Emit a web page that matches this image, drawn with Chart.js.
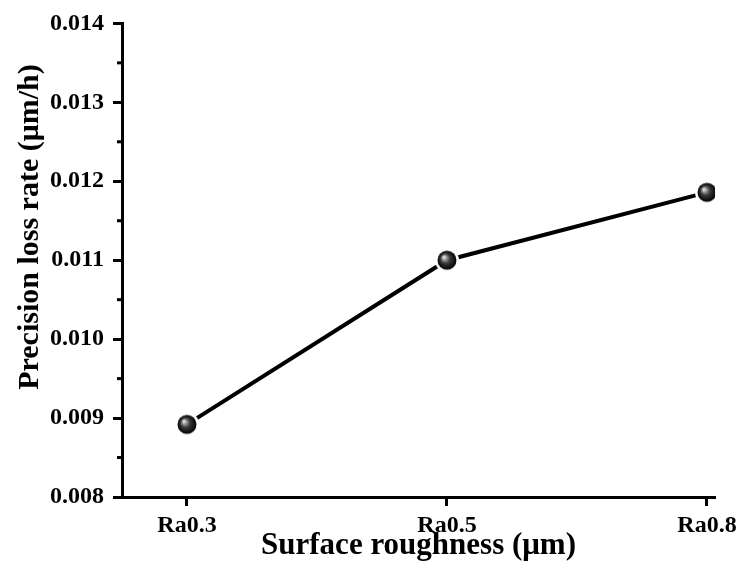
<!DOCTYPE html>
<html>
<head>
<meta charset="utf-8">
<script src="https://cdn.jsdelivr.net/npm/chart.js@4/dist/chart.umd.min.js"></script>
<style>
  html, body { margin: 0; padding: 0; background: #fff; }
  #wrap { width: 742px; height: 569px; }
</style>
</head>
<body>
<div id="wrap"><canvas id="lossRate"></canvas></div>
<script>
const categories = ['Ra0.3', 'Ra0.5', 'Ra0.8'];
const lossRate = [0.00892, 0.0110, 0.01186];
const yTicks = [0.008, 0.009, 0.010, 0.011, 0.012, 0.013, 0.014];
const yTitle = 'Precision loss rate (μm/h)';

const serif = "'Liberation Serif', 'Times New Roman', serif";

// shaded ball used as the point marker
function makeBall(r) {
  const ring = 2.5;
  const size = Math.ceil((r + ring) * 2) + 2;
  const c = document.createElement('canvas');
  c.width = size; c.height = size;
  const g = c.getContext('2d');
  const m = size / 2;
  g.fillStyle = '#fff';
  g.beginPath(); g.arc(m, m, r + ring, 0, Math.PI * 2); g.fill();
  const grad = g.createRadialGradient(m - r * 0.35, m - r * 0.35, 0, m, m, r);
  grad.addColorStop(0, '#ffffff');
  grad.addColorStop(0.18, '#b0b0b0');
  grad.addColorStop(0.5, '#3a3a3a');
  grad.addColorStop(1, '#000000');
  g.fillStyle = grad;
  g.beginPath(); g.arc(m, m, r, 0, Math.PI * 2); g.fill();
  return c;
}

// short outward ticks halfway between the labelled ones, plus the y title
const axisExtras = {
  id: 'axisExtras',
  afterDraw(chart) {
    const y = chart.scales.y;
    const left = chart.chartArea.left;
    const ctx = chart.ctx;
    ctx.save();
    ctx.strokeStyle = '#000';
    ctx.lineWidth = 3;
    for (let i = 0; i < yTicks.length - 1; i++) {
      const py = y.getPixelForValue((yTicks[i] + yTicks[i + 1]) / 2);
      ctx.beginPath();
      ctx.moveTo(left - 5, py);
      ctx.lineTo(left, py);
      ctx.stroke();
    }
    ctx.translate(30, y.getPixelForValue(0.01142));
    ctx.rotate(-Math.PI / 2);
    ctx.fillStyle = '#000';
    ctx.font = 'bold 30px ' + serif;
    ctx.textAlign = 'center';
    ctx.textBaseline = 'middle';
    ctx.fillText(yTitle, 0, 0);
    ctx.restore();
  }
};

const points = lossRate.map((v, i) => ({ x: i, y: v }));

new Chart(document.getElementById('lossRate'), {
  type: 'line',
  data: {
    datasets: [{
      data: points,
      borderColor: '#000',
      borderWidth: 4,
      tension: 0,
      pointStyle: makeBall(9.5),
      clip: 0
    }]
  },
  options: {
    responsive: true,
    maintainAspectRatio: false,
    animation: false,
    layout: { padding: { top: 17, right: 26, left: 0, bottom: 4 } },
    plugins: { legend: { display: false }, tooltip: { enabled: false } },
    scales: {
      x: {
        type: 'linear',
        min: -0.25,
        max: 2.031,
        afterBuildTicks(scale) {
          scale.ticks = categories.map((c, i) => ({ value: i }));
        },
        afterFit(scale) { scale.height = 68; },
        border: { display: true, color: '#000', width: 3 },
        grid: { drawOnChartArea: false, drawTicks: true, tickLength: 9, tickWidth: 3, tickColor: '#000' },
        ticks: {
          color: '#000',
          padding: 5,
          maxRotation: 0,
          autoSkip: false,
          font: { family: serif, size: 24, weight: 'bold' },
          callback: (v) => categories[v]
        },
        title: {
          display: true,
          text: 'Surface roughness (μm)',
          color: '#000',
          padding: { top: -8, bottom: 0 },
          font: { family: serif, size: 31, weight: 'bold' }
        }
      },
      y: {
        min: 0.008,
        max: 0.014,
        afterBuildTicks(scale) {
          scale.ticks = yTicks.map(v => ({ value: v }));
        },
        afterFit(scale) { scale.width = 122; },
        border: { display: true, color: '#000', width: 3 },
        grid: { drawOnChartArea: false, drawTicks: true, tickLength: 9, tickWidth: 3, tickColor: '#000' },
        ticks: {
          color: '#000',
          padding: 9,
          font: { family: serif, size: 24, weight: 'bold' },
          callback: (v) => v.toFixed(3)
        }
      }
    }
  },
  plugins: [axisExtras]
});
</script>
</body>
</html>
